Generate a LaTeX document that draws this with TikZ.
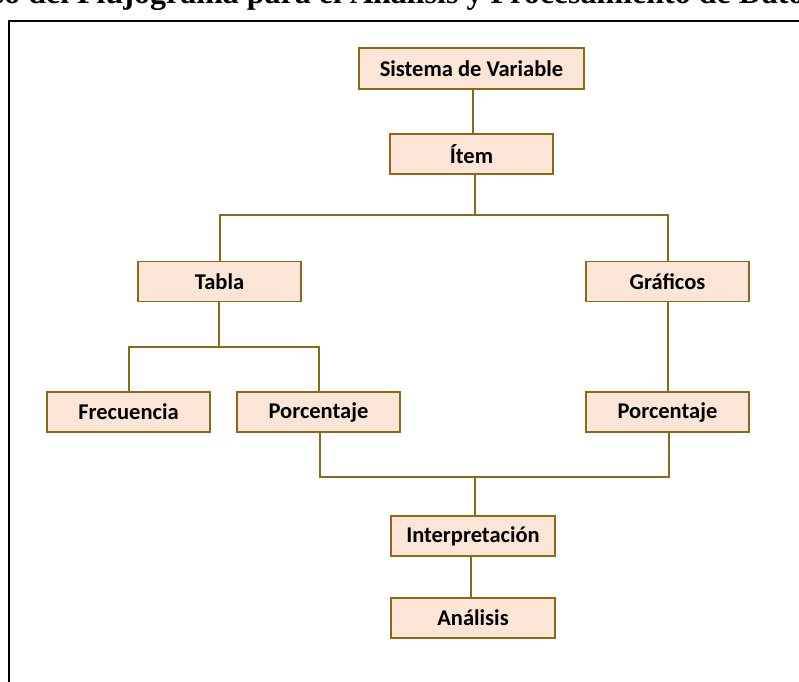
\documentclass[tikz,border=0pt]{standalone}
\usepackage{fontspec}
\setmainfont{Carlito}
\newfontfamily\titlefont{Liberation Serif}
\usetikzlibrary{positioning}
\definecolor{boxfill}{HTML}{FBE5D6}
\definecolor{boxline}{HTML}{8B6A17}
\tikzset{
  block/.style = {rectangle, draw=boxline, line width=1.6pt, fill=boxfill,
                  minimum width=163pt, minimum height=40pt, inner sep=0pt,
                  font=\fontsize{22.5}{26}\selectfont\bfseries},
  link/.style  = {draw=boxline, line width=2pt},
}

\begin{document}
\begin{tikzpicture}[x=1pt, y=-1pt]
    \useasboundingbox (0,0) rectangle (799,681);

    %% Title, cut by the page edge
    \begin{scope}
      \clip (0,0) rectangle (799,18);
      \node[anchor=base west, inner sep=0pt,
            font=\titlefont\bfseries\fontsize{32}{36}\selectfont] (titulo) at (77,3)
            {\llap{Proceso del }Flujograma para el Análisis y Procesamiento de Datos};
    \end{scope}

    %% Frame
    \draw[line width=2.5pt] (9,690) -- (9,21) -- (810,21);

    %% Boxes
    \node[block, minimum width=225pt, minimum height=41pt] (sist) at (471.5, 68.5) {Sistema de Variable};
    \node[block] (item)   at (471.5, 154) {Ítem};
    \node[block] (tabla)  at (219.5, 281.5) {Tabla};
    \node[block] (graf)   at (667.5, 281.5) {Gráficos};
    \node[block] (frec)   at (128.5, 412) {Frecuencia};
    \node[block] (porcA)  at (318.5, 412) {Porcentaje};
    \node[block] (porcB)  at (667.5, 412) {Porcentaje};
    \node[block, minimum width=164pt] (interp) at (473, 536) {Interpretación};
    \node[block, minimum width=164pt] (anal)   at (473, 618) {Análisis};

    %% Junctions
    \coordinate (j1) at (475, 215);
    \coordinate (j2) at (219, 347);
    \coordinate (j3) at (475, 477);

    %% Connectors
    \draw[link] (sist.south -| 473,0) -- (item.north -| 473,0);
    \draw[link] (item.south -| j1) -- (j1);
    \draw[link] (tabla.north) |- (j1) -| (graf.north);
    \draw[link] (tabla.south -| j2) -- (j2);
    \draw[link] (frec.north) |- (j2) -| (porcA.north);
    \draw[link] (graf.south) -- (porcB.north);
    \draw[link] (porcA.south -| 320,0) |- (j3) -| (porcB.south -| 669,0);
    \draw[link] (j3) -- (interp.north -| j3);
    \draw[link] (interp.south -| 471,0) -- (anal.north -| 471,0);

\end{tikzpicture}
\end{document}
